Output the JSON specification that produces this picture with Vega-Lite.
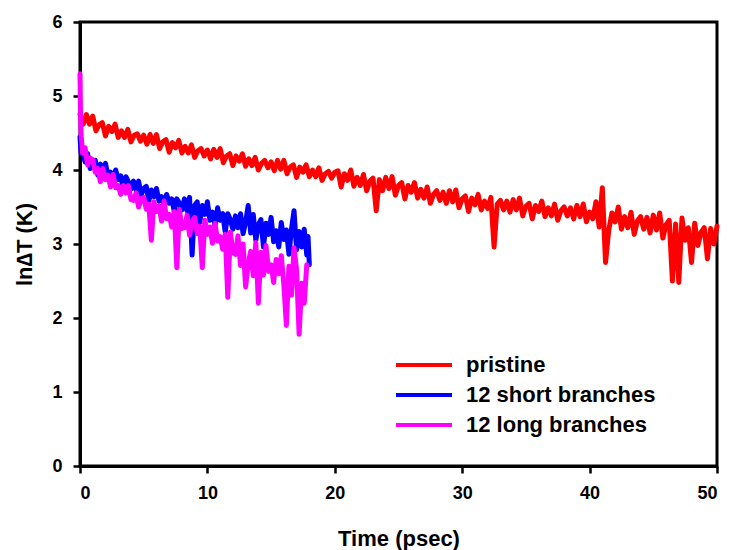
{
  "$schema": "https://vega.github.io/schema/vega-lite/v6.json",
  "width": 637,
  "height": 444,
  "autosize": {"type": "none"},
  "padding": {"left": 80, "top": 22, "right": 15, "bottom": 84},
  "background": "white",
  "config": {
    "view": {"stroke": "black", "strokeWidth": 3},
    "axis": {
      "grid": false,
      "domainColor": "black",
      "domainWidth": 3,
      "tickColor": "black",
      "tickWidth": 2.5,
      "tickSize": 7,
      "labelFont": "Liberation Sans",
      "labelFontWeight": "bold",
      "labelFontSize": 18,
      "labelColor": "black",
      "titleFont": "Liberation Sans",
      "titleFontWeight": "bold",
      "titleFontSize": 22,
      "titleColor": "black"
    }
  },
  "datasets": {
    "red": [
      {"t":0,"v":4.75},{"t":0.25,"v":4.62},{"t":0.5,"v":4.75},{"t":0.75,"v":4.62},{"t":1,"v":4.73},{"t":1.25,"v":4.53},{"t":1.5,"v":4.61},{"t":1.75,"v":4.64},{"t":2,"v":4.46},{"t":2.25,"v":4.59},{"t":2.5,"v":4.52},{"t":2.75,"v":4.62},{"t":3,"v":4.44},{"t":3.25,"v":4.53},{"t":3.5,"v":4.44},{"t":3.75,"v":4.55},{"t":4,"v":4.38},{"t":4.25,"v":4.47},{"t":4.5,"v":4.49},{"t":4.75,"v":4.39},{"t":5,"v":4.47},{"t":5.25,"v":4.35},{"t":5.5,"v":4.48},{"t":5.75,"v":4.36},{"t":6,"v":4.48},{"t":6.25,"v":4.29},{"t":6.5,"v":4.38},{"t":6.75,"v":4.41},{"t":7,"v":4.24},{"t":7.25,"v":4.37},{"t":7.5,"v":4.30},{"t":7.75,"v":4.40},{"t":8,"v":4.23},{"t":8.25,"v":4.32},{"t":8.5,"v":4.23},{"t":8.75,"v":4.34},{"t":9,"v":4.17},{"t":9.25,"v":4.26},{"t":9.5,"v":4.29},{"t":9.75,"v":4.19},{"t":10,"v":4.27},{"t":10.25,"v":4.15},{"t":10.5,"v":4.28},{"t":10.75,"v":4.17},{"t":11,"v":4.29},{"t":11.25,"v":4.10},{"t":11.5,"v":4.19},{"t":11.75,"v":4.22},{"t":12,"v":4.06},{"t":12.25,"v":4.19},{"t":12.5,"v":4.12},{"t":12.75,"v":4.22},{"t":13,"v":4.05},{"t":13.25,"v":4.15},{"t":13.5,"v":4.06},{"t":13.75,"v":4.17},{"t":14,"v":4.00},{"t":14.25,"v":4.09},{"t":14.5,"v":4.13},{"t":14.75,"v":4.03},{"t":15,"v":4.11},{"t":15.25,"v":3.99},{"t":15.5,"v":4.13},{"t":15.75,"v":4.01},{"t":16,"v":4.13},{"t":16.25,"v":3.95},{"t":16.5,"v":4.04},{"t":16.75,"v":4.07},{"t":17,"v":3.90},{"t":17.25,"v":4.04},{"t":17.5,"v":3.97},{"t":17.75,"v":4.07},{"t":18,"v":3.91},{"t":18.25,"v":4.00},{"t":18.5,"v":3.91},{"t":18.75,"v":4.03},{"t":19,"v":3.86},{"t":19.25,"v":3.95},{"t":19.5,"v":3.98},{"t":19.75,"v":3.89},{"t":20,"v":3.97},{"t":20.25,"v":3.99},{"t":20.5,"v":3.77},{"t":20.75,"v":3.95},{"t":21,"v":3.86},{"t":21.25,"v":4.00},{"t":21.5,"v":3.78},{"t":21.75,"v":3.90},{"t":22,"v":3.79},{"t":22.25,"v":3.94},{"t":22.5,"v":3.72},{"t":22.75,"v":3.85},{"t":23,"v":3.89},{"t":23.25,"v":3.45},{"t":23.5,"v":3.87},{"t":23.75,"v":3.72},{"t":24,"v":3.90},{"t":24.25,"v":3.75},{"t":24.5,"v":3.91},{"t":24.75,"v":3.66},{"t":25,"v":3.79},{"t":25.25,"v":3.83},{"t":25.5,"v":3.61},{"t":25.75,"v":3.79},{"t":26,"v":3.70},{"t":26.25,"v":3.83},{"t":26.5,"v":3.62},{"t":26.75,"v":3.74},{"t":27,"v":3.62},{"t":27.25,"v":3.77},{"t":27.5,"v":3.55},{"t":27.75,"v":3.67},{"t":28,"v":3.72},{"t":28.25,"v":3.59},{"t":28.5,"v":3.70},{"t":28.75,"v":3.55},{"t":29,"v":3.72},{"t":29.25,"v":3.57},{"t":29.5,"v":3.73},{"t":29.75,"v":3.49},{"t":30,"v":3.61},{"t":30.25,"v":3.65},{"t":30.5,"v":3.44},{"t":30.75,"v":3.62},{"t":31,"v":3.53},{"t":31.25,"v":3.67},{"t":31.5,"v":3.46},{"t":31.75,"v":3.58},{"t":32,"v":3.48},{"t":32.25,"v":3.63},{"t":32.5,"v":2.96},{"t":32.75,"v":3.54},{"t":33,"v":3.59},{"t":33.25,"v":3.46},{"t":33.5,"v":3.58},{"t":33.75,"v":3.43},{"t":34,"v":3.60},{"t":34.25,"v":3.46},{"t":34.5,"v":3.62},{"t":34.75,"v":3.38},{"t":35,"v":3.51},{"t":35.25,"v":3.55},{"t":35.5,"v":3.34},{"t":35.75,"v":3.52},{"t":36,"v":3.44},{"t":36.25,"v":3.58},{"t":36.5,"v":3.37},{"t":36.75,"v":3.49},{"t":37,"v":3.38},{"t":37.25,"v":3.54},{"t":37.5,"v":3.32},{"t":37.75,"v":3.45},{"t":38,"v":3.50},{"t":38.25,"v":3.38},{"t":38.5,"v":3.49},{"t":38.75,"v":3.34},{"t":39,"v":3.52},{"t":39.25,"v":3.37},{"t":39.5,"v":3.54},{"t":39.75,"v":3.30},{"t":40,"v":3.43},{"t":40.25,"v":3.34},{"t":40.5,"v":3.57},{"t":40.75,"v":3.23},{"t":41,"v":3.76},{"t":41.25,"v":2.75},{"t":41.5,"v":3.18},{"t":41.75,"v":3.42},{"t":42,"v":3.30},{"t":42.25,"v":3.50},{"t":42.5,"v":3.20},{"t":42.75,"v":3.37},{"t":43,"v":3.22},{"t":43.25,"v":3.43},{"t":43.5,"v":3.13},{"t":43.75,"v":3.31},{"t":44,"v":3.37},{"t":44.25,"v":3.20},{"t":44.5,"v":3.36},{"t":44.75,"v":3.15},{"t":45,"v":3.39},{"t":45.25,"v":3.19},{"t":45.5,"v":3.42},{"t":45.75,"v":3.08},{"t":46,"v":3.26},{"t":46.25,"v":3.32},{"t":46.5,"v":2.50},{"t":46.75,"v":3.27},{"t":47,"v":2.48},{"t":47.25,"v":3.35},{"t":47.5,"v":3.05},{"t":47.75,"v":3.22},{"t":48,"v":2.75},{"t":48.25,"v":3.28},{"t":48.5,"v":2.98},{"t":48.75,"v":3.16},{"t":49,"v":3.22},{"t":49.25,"v":2.80},{"t":49.5,"v":3.21},{"t":49.75,"v":3.00},{"t":50,"v":3.24}
    ],
    "blue": [
      {"t":0,"v":4.45},{"t":0.05,"v":4.30},{"t":0.1,"v":4.22},{"t":0.2,"v":4.23},{"t":0.4,"v":4.11},{"t":0.6,"v":4.22},{"t":0.8,"v":4.02},{"t":1,"v":4.11},{"t":1.2,"v":4.13},{"t":1.4,"v":3.93},{"t":1.6,"v":4.08},{"t":1.8,"v":3.99},{"t":2,"v":4.09},{"t":2.2,"v":3.91},{"t":2.4,"v":3.97},{"t":2.6,"v":3.85},{"t":2.8,"v":4.00},{"t":3,"v":3.87},{"t":3.2,"v":3.92},{"t":3.4,"v":3.74},{"t":3.6,"v":3.91},{"t":3.8,"v":3.84},{"t":4,"v":3.74},{"t":4.2,"v":3.85},{"t":4.4,"v":3.73},{"t":4.6,"v":3.85},{"t":4.8,"v":3.66},{"t":5,"v":3.75},{"t":5.2,"v":3.78},{"t":5.4,"v":3.58},{"t":5.6,"v":3.73},{"t":5.8,"v":3.64},{"t":6,"v":3.75},{"t":6.2,"v":3.58},{"t":6.4,"v":3.64},{"t":6.6,"v":3.52},{"t":6.8,"v":3.67},{"t":7,"v":3.55},{"t":7.2,"v":3.61},{"t":7.4,"v":3.44},{"t":7.6,"v":3.61},{"t":7.8,"v":3.55},{"t":8,"v":3.46},{"t":8.2,"v":3.61},{"t":8.4,"v":3.45},{"t":8.6,"v":3.63},{"t":8.8,"v":2.85},{"t":9,"v":3.52},{"t":9.2,"v":3.57},{"t":9.4,"v":3.29},{"t":9.6,"v":3.52},{"t":9.8,"v":3.40},{"t":10,"v":3.57},{"t":10.2,"v":3.32},{"t":10.4,"v":3.43},{"t":10.6,"v":3.25},{"t":10.8,"v":3.49},{"t":11,"v":3.32},{"t":11.2,"v":3.41},{"t":11.4,"v":3.16},{"t":11.6,"v":3.41},{"t":11.8,"v":3.33},{"t":12,"v":3.20},{"t":12.2,"v":3.38},{"t":12.4,"v":3.22},{"t":12.6,"v":3.41},{"t":12.8,"v":3.14},{"t":13,"v":3.30},{"t":13.2,"v":3.52},{"t":13.4,"v":3.15},{"t":13.6,"v":3.40},{"t":13.8,"v":3.05},{"t":14,"v":3.26},{"t":14.2,"v":3.33},{"t":14.4,"v":2.96},{"t":14.6,"v":3.28},{"t":14.8,"v":3.13},{"t":15,"v":3.36},{"t":15.2,"v":3.03},{"t":15.4,"v":3.18},{"t":15.6,"v":2.96},{"t":15.8,"v":3.29},{"t":16,"v":3.06},{"t":16.2,"v":3.19},{"t":16.4,"v":2.86},{"t":16.6,"v":3.20},{"t":16.8,"v":3.45},{"t":17,"v":2.92},{"t":17.2,"v":3.17},{"t":17.4,"v":2.96},{"t":17.6,"v":3.20},{"t":17.8,"v":2.85},{"t":17.9,"v":3.10},{"t":18,"v":2.72}
    ],
    "magenta": [
      {"t":0,"v":5.30},{"t":0.03,"v":4.90},{"t":0.06,"v":4.60},{"t":0.1,"v":4.45},{"t":0.15,"v":4.35},{"t":0.2,"v":4.23},{"t":0.4,"v":4.30},{"t":0.6,"v":4.07},{"t":0.8,"v":4.16},{"t":1,"v":4.14},{"t":1.2,"v":3.97},{"t":1.4,"v":4.02},{"t":1.6,"v":3.84},{"t":1.8,"v":4.02},{"t":2,"v":3.87},{"t":2.2,"v":3.93},{"t":2.4,"v":3.77},{"t":2.6,"v":3.94},{"t":2.8,"v":3.76},{"t":3,"v":3.79},{"t":3.2,"v":3.67},{"t":3.4,"v":3.79},{"t":3.6,"v":3.69},{"t":3.8,"v":3.79},{"t":4,"v":3.60},{"t":4.2,"v":3.59},{"t":4.4,"v":3.69},{"t":4.6,"v":3.50},{"t":4.8,"v":3.61},{"t":5,"v":3.63},{"t":5.2,"v":3.47},{"t":5.4,"v":3.54},{"t":5.6,"v":3.05},{"t":5.8,"v":3.57},{"t":6,"v":3.44},{"t":6.2,"v":3.52},{"t":6.4,"v":3.31},{"t":6.6,"v":3.58},{"t":6.8,"v":3.34},{"t":7,"v":3.40},{"t":7.2,"v":3.23},{"t":7.4,"v":3.44},{"t":7.6,"v":2.68},{"t":7.8,"v":3.47},{"t":8,"v":3.21},{"t":8.2,"v":3.22},{"t":8.4,"v":3.39},{"t":8.6,"v":3.12},{"t":8.8,"v":3.31},{"t":9,"v":3.36},{"t":9.2,"v":3.14},{"t":9.4,"v":3.24},{"t":9.6,"v":2.68},{"t":9.8,"v":3.32},{"t":10,"v":3.13},{"t":10.2,"v":3.23},{"t":10.4,"v":3.01},{"t":10.6,"v":3.28},{"t":10.8,"v":3.04},{"t":11,"v":3.10},{"t":11.2,"v":2.93},{"t":11.4,"v":3.13},{"t":11.6,"v":2.28},{"t":11.8,"v":3.16},{"t":12,"v":2.89},{"t":12.2,"v":2.86},{"t":12.4,"v":3.11},{"t":12.6,"v":2.71},{"t":12.8,"v":3.00},{"t":13,"v":2.42},{"t":13.2,"v":2.74},{"t":13.4,"v":2.90},{"t":13.6,"v":2.57},{"t":13.8,"v":3.02},{"t":14,"v":2.20},{"t":14.2,"v":2.89},{"t":14.4,"v":2.58},{"t":14.6,"v":2.98},{"t":14.8,"v":2.63},{"t":15,"v":2.72},{"t":15.2,"v":2.48},{"t":15.4,"v":2.79},{"t":15.6,"v":2.60},{"t":15.8,"v":2.84},{"t":16,"v":2.45},{"t":16.2,"v":1.90},{"t":16.4,"v":2.70},{"t":16.6,"v":2.31},{"t":16.8,"v":2.95},{"t":17,"v":2.65},{"t":17.2,"v":1.78},{"t":17.4,"v":2.47},{"t":17.6,"v":2.20},{"t":17.8,"v":2.72}
    ]
  },
  "encoding": {
    "x": {
      "field": "t", "type": "quantitative",
      "scale": {"domain": [0, 50], "nice": false},
      "axis": {"values": [0, 10, 20, 30, 40, 50], "labelPadding": 11, "title": "Time (psec)", "titleBaseline": "alphabetic", "titleY": 79}
    },
    "y": {
      "field": "v", "type": "quantitative",
      "scale": {"domain": [0, 6], "nice": false},
      "axis": {"values": [0, 1, 2, 3, 4, 5, 6], "labelPadding": 11, "title": "ln\u2206T (K)", "titleBaseline": "alphabetic", "titleX": -49, "titleY": 222}
    }
  },
  "layer": [
    {
      "data": {"name": "red"},
      "mark": {"type": "line", "strokeWidth": 5, "strokeJoin": "round", "strokeCap": "round"},
      "encoding": {
        "color": {
          "datum": "pristine",
          "type": "nominal",
          "scale": {"domain": ["pristine", "12 short branches", "12 long branches"], "range": ["#ff0000", "#0000ff", "#ff00ff"]},
          "legend": {
            "title": null,
            "orient": "none",
            "legendX": 328,
            "legendY": 327,
            "padding": 0,
            "symbolType": "M-2,0H2",
            "symbolSize": 784,
            "symbolStrokeWidth": 4,
            "labelOffset": 26,
            "labelLimit": 0,
            "labelFont": "Liberation Sans",
            "labelFontWeight": "bold",
            "labelFontSize": 22,
            "labelColor": "black",
            "rowPadding": 3
          }
        }
      }
    },
    {
      "data": {"name": "blue"},
      "mark": {"type": "line", "strokeWidth": 5, "strokeJoin": "round", "strokeCap": "round"},
      "encoding": {"color": {"datum": "12 short branches", "type": "nominal"}}
    },
    {
      "data": {"name": "magenta"},
      "mark": {"type": "line", "strokeWidth": 5, "strokeJoin": "round", "strokeCap": "round"},
      "encoding": {"color": {"datum": "12 long branches", "type": "nominal"}}
    }
  ]
}
